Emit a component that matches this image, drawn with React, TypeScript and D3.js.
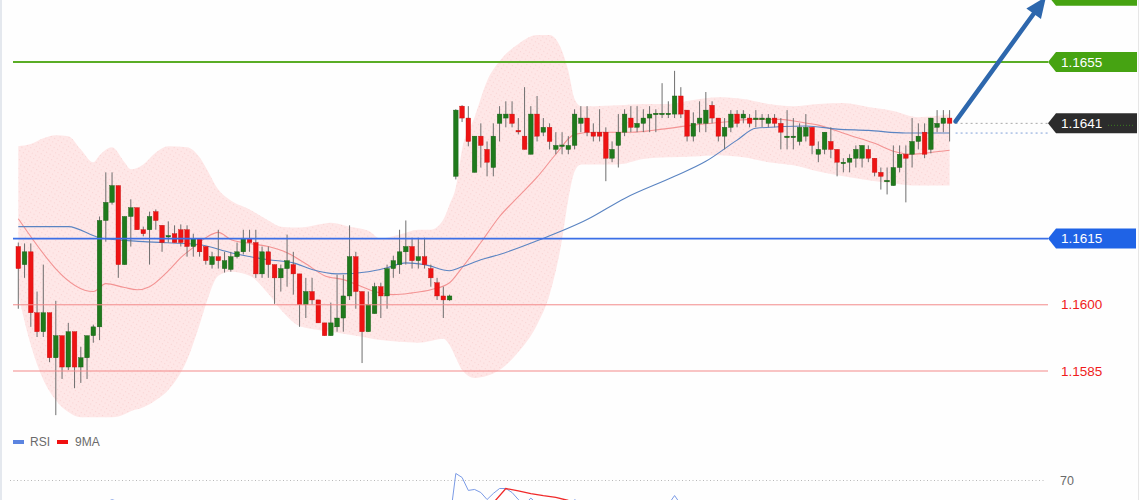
import React from "react";
import * as d3 from "d3";

// ---- Candle data (EURUSD, 150 bars) ----
const opens = [
  1.16132, 1.16091, 1.16120, 1.15982, 1.15939, 1.15982, 1.15880, 1.15930, 1.15859, 1.15939,
  1.15859, 1.15880, 1.15930, 1.15950, 1.16191, 1.16232, 1.16270, 1.16091, 1.16200, 1.16220,
  1.16170, 1.16170, 1.16211, 1.16180, 1.16155, 1.16161, 1.16170, 1.16170, 1.16132, 1.16150,
  1.16132, 1.16091, 1.16109, 1.16082, 1.16080, 1.16109, 1.16120, 1.16150, 1.16141, 1.16070,
  1.16120, 1.16091, 1.16061, 1.16082, 1.16091, 1.16070, 1.16000, 1.16030, 1.16011, 1.15959,
  1.15930, 1.15950, 1.15970, 1.16020, 1.16109, 1.16030, 1.15939, 1.15980, 1.16041, 1.16020,
  1.16082, 1.16091, 1.16120, 1.16132, 1.16100, 1.16109, 1.16082, 1.16050, 1.16020, 1.16011,
  1.16291, 1.16450, 1.16423, 1.16300, 1.16382, 1.16352, 1.16311, 1.16411, 1.16423, 1.16432,
  1.16395, 1.16382, 1.16341, 1.16432, 1.16391, 1.16402, 1.16352, 1.16361, 1.16352, 1.16361,
  1.16411, 1.16423, 1.16391, 1.16391, 1.16391, 1.16332, 1.16361, 1.16391, 1.16423, 1.16402,
  1.16411, 1.16423, 1.16432, 1.16432, 1.16432, 1.16432, 1.16473, 1.16441, 1.16382, 1.16411,
  1.16411, 1.16452, 1.16423, 1.16382, 1.16402, 1.16432, 1.16423, 1.16423, 1.16423, 1.16423,
  1.16411, 1.16423, 1.16411, 1.16382, 1.16382, 1.16370, 1.16382, 1.16402, 1.16341, 1.16352,
  1.16370, 1.16352, 1.16323, 1.16323, 1.16332, 1.16332, 1.16352, 1.16332, 1.16300, 1.16280,
  1.16270, 1.16311, 1.16341, 1.16341, 1.16370, 1.16391, 1.16352, 1.16402, 1.16411, 1.16423,
];
const highs = [
  1.16141, 1.16139, 1.16139, 1.16030, 1.16091, 1.15982, 1.16009, 1.15930, 1.15959, 1.15939,
  1.15905, 1.15930, 1.15955, 1.16200, 1.16300, 1.16300, 1.16270, 1.16200, 1.16239, 1.16220,
  1.16177, 1.16211, 1.16216, 1.16180, 1.16189, 1.16180, 1.16182, 1.16180, 1.16161, 1.16150,
  1.16132, 1.16120, 1.16170, 1.16120, 1.16120, 1.16141, 1.16170, 1.16170, 1.16170, 1.16132,
  1.16132, 1.16091, 1.16091, 1.16159, 1.16120, 1.16070, 1.16061, 1.16061, 1.16011, 1.15959,
  1.16005, 1.16068, 1.16068, 1.16180, 1.16120, 1.16030, 1.16030, 1.16050, 1.16050, 1.16091,
  1.16111, 1.16170, 1.16191, 1.16152, 1.16152, 1.16152, 1.16091, 1.16061, 1.16041, 1.16023,
  1.16443, 1.16452, 1.16450, 1.16382, 1.16411, 1.16370, 1.16411, 1.16450, 1.16461, 1.16461,
  1.16423, 1.16493, 1.16450, 1.16473, 1.16423, 1.16411, 1.16391, 1.16391, 1.16382, 1.16443,
  1.16450, 1.16450, 1.16411, 1.16443, 1.16402, 1.16370, 1.16432, 1.16443, 1.16450, 1.16450,
  1.16443, 1.16450, 1.16443, 1.16502, 1.16461, 1.16530, 1.16493, 1.16441, 1.16436, 1.16461,
  1.16482, 1.16461, 1.16423, 1.16423, 1.16441, 1.16441, 1.16441, 1.16432, 1.16441, 1.16432,
  1.16432, 1.16432, 1.16423, 1.16441, 1.16423, 1.16411, 1.16432, 1.16402, 1.16370, 1.16391,
  1.16402, 1.16352, 1.16332, 1.16341, 1.16361, 1.16361, 1.16361, 1.16332, 1.16311, 1.16311,
  1.16361, 1.16361, 1.16361, 1.16423, 1.16411, 1.16411, 1.16423, 1.16441, 1.16441, 1.16441,
];
const lows = [
  1.15991, 1.16061, 1.15950, 1.15927, 1.15927, 1.15870, 1.15750, 1.15832, 1.15852, 1.15811,
  1.15823, 1.15832, 1.15914, 1.15920, 1.16143, 1.16227, 1.16061, 1.16091, 1.16132, 1.16170,
  1.16155, 1.16091, 1.16170, 1.16120, 1.16141, 1.16141, 1.16132, 1.16109, 1.16109, 1.16109,
  1.16091, 1.16082, 1.16082, 1.16073, 1.16075, 1.16105, 1.16114, 1.16120, 1.16061, 1.16061,
  1.16061, 1.16002, 1.16030, 1.16041, 1.16023, 1.15950, 1.15970, 1.16000, 1.15959, 1.15930,
  1.15930, 1.15939, 1.15939, 1.16011, 1.15991, 1.15868, 1.15939, 1.15980, 1.15970, 1.15991,
  1.16061, 1.16070, 1.16091, 1.16082, 1.16082, 1.16082, 1.16041, 1.16011, 1.15970, 1.16009,
  1.16284, 1.16414, 1.16359, 1.16300, 1.16311, 1.16291, 1.16291, 1.16370, 1.16402, 1.16402,
  1.16386, 1.16352, 1.16341, 1.16370, 1.16382, 1.16352, 1.16341, 1.16341, 1.16341, 1.16352,
  1.16391, 1.16382, 1.16370, 1.16370, 1.16280, 1.16323, 1.16311, 1.16382, 1.16391, 1.16391,
  1.16391, 1.16391, 1.16391, 1.16423, 1.16423, 1.16423, 1.16423, 1.16370, 1.16370, 1.16391,
  1.16391, 1.16411, 1.16370, 1.16352, 1.16391, 1.16402, 1.16411, 1.16402, 1.16402, 1.16402,
  1.16402, 1.16402, 1.16352, 1.16352, 1.16352, 1.16361, 1.16370, 1.16341, 1.16323, 1.16341,
  1.16332, 1.16291, 1.16300, 1.16300, 1.16311, 1.16311, 1.16323, 1.16291, 1.16261, 1.16250,
  1.16270, 1.16300, 1.16232, 1.16311, 1.16352, 1.16332, 1.16343, 1.16391, 1.16391, 1.16370,
];
const closes = [
  1.16082, 1.16120, 1.15982, 1.15939, 1.15982, 1.15880, 1.15930, 1.15859, 1.15939, 1.15859,
  1.15880, 1.15930, 1.15950, 1.16191, 1.16232, 1.16270, 1.16091, 1.16200, 1.16220, 1.16170,
  1.16161, 1.16200, 1.16191, 1.16141, 1.16157, 1.16141, 1.16141, 1.16132, 1.16150, 1.16120,
  1.16100, 1.16109, 1.16100, 1.16100, 1.16109, 1.16120, 1.16150, 1.16141, 1.16070, 1.16120,
  1.16091, 1.16061, 1.16082, 1.16100, 1.16070, 1.16000, 1.16030, 1.16011, 1.15959, 1.15930,
  1.15959, 1.15970, 1.16020, 1.16109, 1.16030, 1.15939, 1.16000, 1.16041, 1.16020, 1.16082,
  1.16100, 1.16120, 1.16132, 1.16100, 1.16109, 1.16091, 1.16061, 1.16020, 1.16011, 1.16020,
  1.16441, 1.16423, 1.16370, 1.16382, 1.16361, 1.16323, 1.16382, 1.16432, 1.16432, 1.16411,
  1.16393, 1.16352, 1.16432, 1.16382, 1.16402, 1.16370, 1.16361, 1.16362, 1.16361, 1.16432,
  1.16423, 1.16391, 1.16382, 1.16382, 1.16332, 1.16352, 1.16391, 1.16432, 1.16402, 1.16411,
  1.16423, 1.16432, 1.16434, 1.16434, 1.16434, 1.16473, 1.16432, 1.16382, 1.16411, 1.16423,
  1.16441, 1.16423, 1.16382, 1.16402, 1.16432, 1.16411, 1.16432, 1.16411, 1.16423, 1.16423,
  1.16423, 1.16411, 1.16391, 1.16382, 1.16382, 1.16402, 1.16402, 1.16361, 1.16352, 1.16391,
  1.16352, 1.16323, 1.16323, 1.16332, 1.16352, 1.16361, 1.16332, 1.16300, 1.16291, 1.16282,
  1.16311, 1.16341, 1.16332, 1.16370, 1.16382, 1.16341, 1.16423, 1.16411, 1.16423, 1.16411,
];

// ---- Bollinger band (read at sample bars) ----
const bandIndex = [
  0, 2, 4, 6, 8, 10, 12, 13, 15, 17, 18, 20, 22, 24, 27, 29, 30, 32, 34, 37,
  40, 42, 45, 48, 50, 53, 56, 58, 61, 64, 66, 68, 69, 70, 71, 73, 75, 77, 80, 83,
  85, 87, 88, 89, 90, 92, 96, 100, 104, 108, 112, 116, 120, 124, 128, 132, 136, 140, 144, 149,
];
const bandUpper = [
  1.16359, 1.16364, 1.16377, 1.16384, 1.16382, 1.16352, 1.16323, 1.16339, 1.16357, 1.16323,
  1.16307, 1.16318, 1.16345, 1.16359, 1.16357, 1.16334, 1.16311, 1.16261, 1.16236, 1.16216,
  1.16191, 1.16177, 1.16175, 1.16182, 1.16186, 1.16177, 1.16168, 1.16150, 1.16159, 1.16170,
  1.16170, 1.16193, 1.16227, 1.16266, 1.16352, 1.16425, 1.16507, 1.16552, 1.16591, 1.16611,
  1.16611, 1.16575, 1.16530, 1.16466, 1.16450, 1.16450, 1.16452, 1.16455, 1.16455, 1.16464,
  1.16470, 1.16466, 1.16455, 1.16450, 1.16455, 1.16457, 1.16448, 1.16439, 1.16425, 1.16432,
];
const bandLower = [
  1.16023, 1.15909, 1.15830, 1.15784, 1.15757, 1.15745, 1.15745, 1.15745, 1.15745, 1.15752,
  1.15759, 1.15768, 1.15784, 1.15807, 1.15875, 1.15955, 1.16000, 1.16066, 1.16075, 1.16066,
  1.16025, 1.15989, 1.15952, 1.15943, 1.15939, 1.15932, 1.15925, 1.15920, 1.15916, 1.15914,
  1.15918, 1.15923, 1.15909, 1.15880, 1.15852, 1.15834, 1.15839, 1.15852, 1.15893, 1.15955,
  1.16023, 1.16148, 1.16239, 1.16302, 1.16318, 1.16318, 1.16318, 1.16330, 1.16334, 1.16336,
  1.16339, 1.16334, 1.16323, 1.16316, 1.16302, 1.16291, 1.16282, 1.16275, 1.16270, 1.16270,
];

// ---- Fast MA (red) ----
const fastIndex = [
  0, 12, 14, 17, 19, 21, 24, 26, 28, 30, 32, 34, 37, 40, 43, 46, 49, 52, 55, 57,
  60, 63, 66, 69, 71, 74, 77, 80, 83, 86, 89, 92, 98, 103, 108, 113, 117, 122, 125, 128,
  133, 137, 140, 143, 146, 149,
];
const fastMA = [
  1.16195, 1.16030, 1.16048, 1.16039, 1.16034, 1.16041, 1.16077, 1.16107, 1.16130, 1.16152,
  1.16164, 1.16148, 1.16139, 1.16132, 1.16118, 1.16093, 1.16066, 1.16057, 1.16041, 1.16030,
  1.16023, 1.16027, 1.16034, 1.16050, 1.16084, 1.16141, 1.16200, 1.16245, 1.16289, 1.16341,
  1.16386, 1.16391, 1.16391, 1.16398, 1.16407, 1.16414, 1.16420, 1.16420, 1.16414, 1.16407,
  1.16384, 1.16366, 1.16348, 1.16341, 1.16345, 1.16350,
];

// ---- Slow MA (blue) ----
const slowIndex = [
  0, 8, 13, 20, 29, 34, 40, 44, 47, 51, 56, 59, 62, 65, 69, 71, 74, 77, 83, 91,
  97, 105, 110, 115, 118, 126, 131, 136, 142, 149,
];
const slowMA = [
  1.16177, 1.16177, 1.16152, 1.16143, 1.16136, 1.16118, 1.16102, 1.16095, 1.16080, 1.16070,
  1.16075, 1.16084, 1.16095, 1.16091, 1.16077, 1.16086, 1.16102, 1.16114, 1.16145, 1.16193,
  1.16241, 1.16291, 1.16325, 1.16373, 1.16400, 1.16405, 1.16398, 1.16395, 1.16389, 1.16389,
];

// ---- Levels ----
const targetLevel = 1.167; // label box above the top edge
const resistanceLevel = 1.1655;
const supportLevel = 1.1615;
const redLevels = [1.16, 1.1585];

// ---- RSI panel ----
const rsiIndex = [
  0, 5, 10, 13, 15, 20, 30, 40, 50, 53, 55, 60, 65, 68, 69, 70, 71, 72, 73, 74,
  75, 76, 77, 78, 79, 80, 81, 82, 83, 84, 85, 86, 88, 89, 90, 92, 94, 96, 98, 101,
  103, 104, 105, 106, 107, 110, 112, 115, 120, 123, 127, 131, 135, 139, 141, 143, 146, 149,
];
const rsiValues = [
  48, 35, 32, 55, 58, 52, 48, 42, 35, 50, 40, 50, 48, 40, 44, 74.4, 71.9, 63.8, 64.4, 62.5,
  58.1, 61.9, 65, 65, 62.5, 58.1, 55, 59, 55.5, 56, 52, 52, 51, 58, 56, 52, 45, 52, 53, 55,
  56, 55, 60.6, 55, 48, 53, 48, 52, 51, 48, 46, 42, 44, 38, 45, 50, 54, 54,
];
const ma9Index = [0, 10, 20, 30, 40, 50, 60, 69, 74, 76, 78, 80, 82, 84, 86, 88, 90, 95, 100, 105, 110, 120, 130, 140, 149];
const ma9Values = [46, 40, 50, 46, 44, 40, 44, 44, 52, 56, 65, 63.5, 61.8, 60.5, 59.4, 57.5, 56, 54, 53, 54, 53, 50, 47, 44, 48];
const rsiLevel = 70;

const FONT = "'Liberation Sans', Arial, Helvetica, sans-serif";

export default function App() {
  const W = 1140;
  const H = 500;
  const n = closes.length;
  const x = d3.scaleLinear().domain([0, n - 1]).range([18.3, 949.6]);
  const y = d3.scaleLinear().domain([1.1585, 1.1655]).range([371, 62]);
  const rsiY = d3.scaleLinear().domain([70, 30]).range([480.5, 544.5]);

  const lineLeft = 13;
  const lineRight = 1048;
  const bodyW = 4.6;

  const area = d3
    .area<number>()
    .x((_, i) => x(bandIndex[i]))
    .y0((_, i) => y(bandLower[i]))
    .y1((_, i) => y(bandUpper[i]))
    .curve(d3.curveMonotoneX);
  const bandPath = area(bandIndex) || "";

  const mkLine = (idx: number[], vals: number[], ys: (v: number) => number, curve: any) =>
    d3
      .line<number>()
      .x((_, i) => x(idx[i]))
      .y((_, i) => ys(vals[i]))
      .curve(curve)(idx) || "";

  const fastPath = mkLine(fastIndex, fastMA, y, d3.curveMonotoneX);
  const slowPath = mkLine(slowIndex, slowMA, y, d3.curveMonotoneX);
  const rsiPath = mkLine(rsiIndex, rsiValues, rsiY, d3.curveLinear);
  const ma9Path = mkLine(ma9Index, ma9Values, rsiY, d3.curveLinear);

  const lastClose = closes[n - 1];
  const lastSlow = slowMA[slowMA.length - 1];

  const labelShape = (cy: number, tip: number, right: number) => {
    const h = 10;
    return `M${tip},${cy} L${tip + 8},${cy - h} L${right},${cy - h} L${right},${cy + h} L${tip + 8},${cy + h} Z`;
  };

  // arrow
  const ax0 = x(n - 1) + 6;
  const ay0 = y(lastClose) - 2;
  const ax1 = 1046;
  const ay1 = y(targetLevel) + 1;
  const dx = ax1 - ax0;
  const dy = ay1 - ay0;
  const len = Math.sqrt(dx * dx + dy * dy);
  const ux = dx / len;
  const uy = dy / len;
  const headL = 21;
  const headW = 9;
  const bx = ax1 - ux * headL;
  const by = ay1 - uy * headL;
  const head = `M${ax1},${ay1} L${bx - uy * headW},${by + ux * headW} L${bx + uy * headW},${by - ux * headW} Z`;

  return (
    <svg
      width={W}
      height={H}
      style={{ position: "absolute", left: 0, top: 0, display: "block", background: "#fefefe" }}
      fontFamily={FONT}
    >
      <defs>
        <pattern id="bandDots" width="4" height="4" patternUnits="userSpaceOnUse" patternTransform="rotate(30)">
          <rect width="4" height="4" fill="#fee7e7" />
          <rect width="1.1" height="1.1" fill="#f9d3d3" />
        </pattern>
      </defs>
      <rect x={0} y={0} width={W} height={H} fill="#fefefe" />
      <line x1={1} x2={1} y1={0} y2={H} stroke="#e4e8ee" strokeWidth={2} />
      <line x1={1138.5} x2={1138.5} y1={0} y2={H} stroke="#e6e6e6" strokeWidth={1} />

      {/* Bollinger band */}
      <path d={bandPath} fill="url(#bandDots)" />

      {/* moving averages */}
      <path d={fastPath} fill="none" stroke="#f39393" strokeWidth={1.1} />
      <path d={slowPath} fill="none" stroke="#5a84c2" strokeWidth={1.1} />

      {/* candles */}
      {closes.map((c, i) => {
        const o = opens[i];
        const up = c >= o;
        const top = y(Math.max(o, c));
        const bot = y(Math.min(o, c));
        const cx = x(i);
        return (
          <g key={i}>
            <line x1={cx} x2={cx} y1={y(highs[i])} y2={y(lows[i])} stroke="#6e6e6e" strokeWidth={1} />
            <rect
              x={cx - bodyW / 2}
              y={top}
              width={bodyW}
              height={Math.max(1.5, bot - top)}
              fill={up ? "#1f7a1c" : "#ee1313"}
              stroke={up ? "#145a12" : "#c20d0d"}
              strokeWidth={0.4}
            />
          </g>
        );
      })}

      {/* level lines */}
      {redLevels.map((p) => (
        <line key={p} x1={lineLeft} x2={lineRight} y1={y(p)} y2={y(p)} stroke="#f38a8a" strokeWidth={1} />
      ))}
      <line x1={lineLeft} x2={lineRight} y1={y(targetLevel)} y2={y(targetLevel)} stroke="#5aad26" strokeWidth={2.2} />
      <line x1={lineLeft} x2={lineRight} y1={y(resistanceLevel)} y2={y(resistanceLevel)} stroke="#5aad26" strokeWidth={2.2} />
      <line x1={lineLeft} x2={lineRight} y1={y(supportLevel)} y2={y(supportLevel)} stroke="#3b6fe6" strokeWidth={1.8} />

      {/* dotted current-price lines */}
      <line x1={x(n - 1) + 6} x2={lineRight} y1={y(lastClose)} y2={y(lastClose)} stroke="#a8a8a8" strokeWidth={1} strokeDasharray="2,3" />
      <line x1={x(n - 1) + 6} x2={lineRight} y1={y(lastSlow)} y2={y(lastSlow)} stroke="#7f9fd8" strokeWidth={1} strokeDasharray="2,3" />

      {/* arrow */}
      <line x1={ax0} y1={ay0} x2={bx} y2={by} stroke="#2d67ad" strokeWidth={4.5} strokeLinecap="round" />
      <path d={head} fill="#2d67ad" />

      {/* right labels */}
      <path d={labelShape(y(targetLevel), 1048, 1137)} fill="#46a312" />
      <g>
        <path d={labelShape(y(resistanceLevel), 1048, 1137)} fill="#46a312" />
        <text x={1061} y={y(resistanceLevel) + 4.7} fill="#ffffff" fontSize={13.5}>
          {resistanceLevel.toFixed(4)}
        </text>
      </g>
      <g>
        <path d={labelShape(y(lastClose), 1048, 1137)} fill="#2c2c2c" />
        <text x={1061} y={y(lastClose) + 4.7} fill="#ffffff" fontSize={13.5}>
          {lastClose.toFixed(4)}
        </text>
        <line x1={1108} x2={1134} y1={y(lastClose) + 2} y2={y(lastClose) + 2} stroke="#3a7a20" strokeWidth={1} strokeDasharray="1,2" />
      </g>
      <g>
        <path d={labelShape(y(supportLevel), 1048, 1136)} fill="#1f63e6" />
        <text x={1061} y={y(supportLevel) + 4.7} fill="#ffffff" fontSize={13.5}>
          {supportLevel.toFixed(4)}
        </text>
      </g>
      {redLevels.map((p) => (
        <text key={"r" + p} x={1061} y={y(p) + 4.7} fill="#f01c1c" fontSize={13.5}>
          {p.toFixed(4)}
        </text>
      ))}

      {/* RSI panel */}
      <rect x={13} y={440} width={11} height={4} fill="#5b84e0" />
      <text x={30} y={446} fill="#6a6a6a" fontSize={12}>RSI</text>
      <rect x={57} y={440} width={11} height={4} fill="#f01010" />
      <text x={75} y={446} fill="#6a6a6a" fontSize={12}>9MA</text>
      <line x1={10} x2={1045} y1={rsiY(rsiLevel)} y2={rsiY(rsiLevel)} stroke="#b8b8b8" strokeWidth={1} strokeDasharray="1,2.5" />
      <text x={1060} y={rsiY(rsiLevel) + 4.5} fill="#6a6a6a" fontSize={12.5}>
        {rsiLevel}
      </text>
      <path d={rsiPath} fill="none" stroke="#7b9be6" strokeWidth={1} />
      <path d={ma9Path} fill="none" stroke="#f02a2a" strokeWidth={1.3} />
    </svg>
  );
}
